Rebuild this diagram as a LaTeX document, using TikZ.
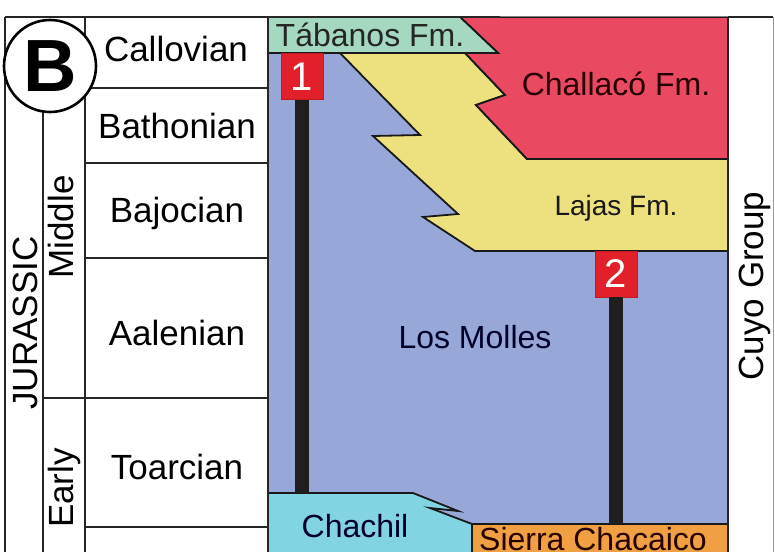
\documentclass[tikz,border=0pt]{standalone}
\usepackage{fontspec}
\setmainfont{Liberation Sans}
\usetikzlibrary{calc, positioning}
\definecolor{molles}{RGB}{151,168,216}
\definecolor{lajas}{RGB}{237,224,126}
\definecolor{challaco}{RGB}{233,74,98}
\definecolor{tabanos}{RGB}{164,216,192}
\definecolor{chachil}{RGB}{130,212,226}
\definecolor{sierra}{RGB}{240,160,66}
\definecolor{markred}{RGB}{226,32,42}
\newcommand{\stagefont}{\fontsize{35}{40}\selectfont}
\newcommand{\unitfont}{\fontsize{32}{36}\selectfont}
\tikzset{/Strat/marker/.style={
	shape=rectangle, fill=markred, draw=markred!85!black, text=white, inner sep=0,
	minimum width=42pt, minimum height=46pt, font=\fontsize{40}{40}\selectfont
}}
\tikzset{/Strat/bar/.style={draw=black!88, line width=14pt}}
\tikzset{/Strat/unit/.style={draw=black!90, line width=1.8pt}}
\tikzset{/Strat/grid/.style={draw=black!85, line width=2.2pt}}
\tikzset{/Strat/label/.style={inner sep=0, anchor=base}}

\begin{document}
\begin{tikzpicture}[x=1pt,y=-1pt]
\useasboundingbox (0,0) rectangle (775,551);
\clip (0,0) rectangle (775,551);
% formations
\fill[molles] (268,17) rectangle (728,560);
\path[/Strat/unit, fill=lajas] (340,53) -- (465,53) -- (505,95) -- (476,105) -- (527,159) -- (728,159) -- (728,251) -- (475,251) -- (423,217) -- (458,214) -- (373,136) -- (420,135) -- cycle;
\path[/Strat/unit, fill=challaco] (460,17) -- (728,17) -- (728,159) -- (527,159) -- (476,105) -- (505,95) -- (465,53) -- (498,53) -- cycle;
\path[/Strat/unit, fill=tabanos] (268,17) -- (460,17) -- (498,53) -- (268,53) -- cycle;
\path[/Strat/unit, fill=chachil] (268,493) -- (413,493) -- (458,511) -- (430,508) -- (472,524) -- (472,560) -- (268,560) -- cycle;
\path[/Strat/unit, fill=sierra] (472,524) rectangle (728,560);

% sections
\coordinate (endone) at (302,493);
\coordinate (endtwo) at (616,524);
\node[/Strat/marker] (mkone) at (302,76.5) {1};
\node[/Strat/marker] (mktwo) at (616,274) {2};
\draw[/Strat/bar] (mkone.south) -- (endone);
\draw[/Strat/bar] (mktwo.south) -- (endtwo);

% chart frame
\draw[/Strat/grid] (5,17) -- (500,17);
\draw[black!50, line width=1pt] (500,17) -- (728,17);
\draw[/Strat/grid] (728,17) -- (773,17);
\draw[/Strat/grid] (5,17) -- (5,560);
\draw[/Strat/grid] (43,100) -- (43,560);
\draw[/Strat/grid] (85,17) -- (85,560);
\draw[/Strat/grid] (268,17) -- (268,560);
\draw[/Strat/grid] (728,17) -- (728,560);
\draw[black!40, line width=1pt] (773,17) -- (773,560);
\draw[/Strat/grid] (85,88) -- (268,88);
\draw[/Strat/grid] (85,163) -- (268,163);
\draw[/Strat/grid] (85,258) -- (268,258);
\draw[/Strat/grid] (43,398) -- (268,398);
\draw[/Strat/grid] (85,527) -- (268,527);
\node[circle, draw, fill=white, line width=2.6pt, minimum size=92pt, inner sep=0,
	font=\fontsize{74}{74}\selectfont\bfseries] (bmark) at (50,66) {B};

{\stagefont
\node[/Strat/label] (callovian) at (176,61) {Callovian};
\node[/Strat/label] (bathonian) at (177,138) {Bathonian};
\node[/Strat/label] (bajocian) at (177,222) {Bajocian};
\node[/Strat/label] (aalenian) at (177,345) {Aalenian};
\node[/Strat/label] (toarcian) at (177,479) {Toarcian};
\node[/Strat/label, rotate=90] (jurassic) at (37,323) {JURASSIC};
\node[/Strat/label, rotate=90] (middle) at (73,227) {Middle};
\node[/Strat/label, rotate=90] (early) at (73,488) {Early};
\node[/Strat/label, rotate=90] (cuyo) at (763,286) {Cuyo Group};
}

{\unitfont
\node[/Strat/label, text=black!85] (tabanoslbl) at (370,47) {Tábanos Fm.};
\node[/Strat/label, text=black!85!red] (challacolbl) at (616,95) {Challacó Fm.};
\node[/Strat/label, text=black!90, font=\fontsize{28}{32}\selectfont] (lajaslbl) at (616,215) {Lajas Fm.};
\node[/Strat/label, text=black!85!blue] (molleslbl) at (475,348) {Los Molles};
\node[/Strat/label, text=black!85!blue] (chachillbl) at (355,537) {Chachil};
\node[/Strat/label, text=black!85!red] (sierralbl) at (593,550) {Sierra Chacaico};
}
\end{tikzpicture}
\end{document}
